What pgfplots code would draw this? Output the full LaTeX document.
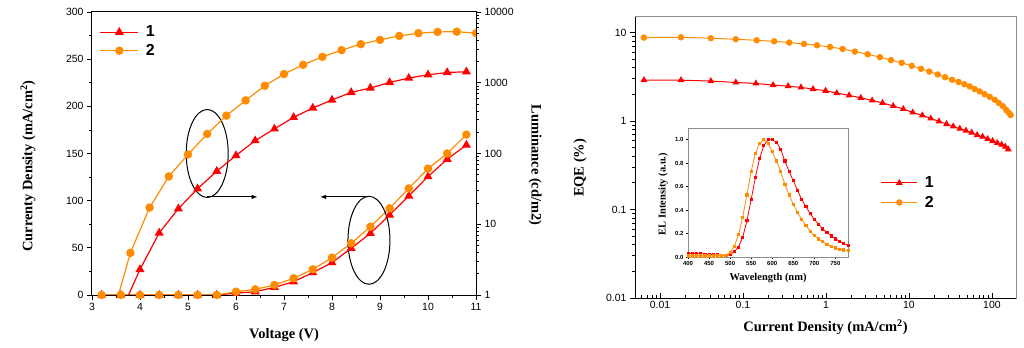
\documentclass[border=0pt]{standalone}
\usepackage{fontspec}
\setmainfont{Liberation Sans}
\newfontfamily\tms{Liberation Serif}
\usepackage{pgfplots}
\pgfplotsset{compat=1.18}
\usetikzlibrary{arrows.meta}
\definecolor{cRed}{RGB}{255,0,0}
\definecolor{cOra}{RGB}{255,140,0}
\definecolor{frameGray}{RGB}{140,140,140}
\begin{document}
\begin{tikzpicture}
\path[use as bounding box] (0,0) rectangle (1024bp,348bp);

% ---------------- Left chart: current density axis ----------------
\begin{axis}[
  at={(92bp,53bp)}, anchor=south west, scale only axis,
  width=384bp, height=283bp,
  xmin=3, xmax=11, ymin=0, ymax=300,
  xtick={3,4,...,11}, ytick={0,50,...,300},
  minor x tick num=1, minor y tick num=1,
  tick align=outside, xtick pos=left, ytick pos=left,
  major tick length=5bp, minor tick length=3bp,
  tick style={black, line width=0.8bp},
  axis line style={line width=1bp},
  tick label style={font=\fontsize{10.5}{12}\selectfont},
  /pgf/number format/assume math mode=true,
  label style={font=\tms\bfseries\fontsize{14.5}{17}\selectfont},
  xlabel={Voltage (V)},
  ylabel={Currenty Density (mA/cm\textsuperscript{2})},
  xlabel style={at={(axis description cs:0.5,-0.141)}, anchor=center},
  ylabel style={at={(axis description cs:-0.167,0.456)}, anchor=center},
  legend style={draw=none, fill=none, at={(0.017,0.962)}, anchor=north west,
    font=\bfseries\fontsize{16}{18}\selectfont, row sep=2bp, inner sep=1bp},
  legend cell align=left,
  legend image code/.code={\draw[mark repeat=2,mark phase=2] plot coordinates {(0bp,0bp)(19bp,0bp)(38bp,0bp)};},
]
\addplot[cRed, line width=1.2bp, mark=triangle*, mark size=4bp] coordinates {
(3.2,0)(3.6,0)(4.0,0)(4.4,0)(4.8,0)(5.2,0)(5.6,0)(6.0,2)(6.4,3.5)(6.8,8.1)
(7.2,14.1)(7.6,23.7)(8.0,34.3)(8.4,49.5)(8.8,65.4)(9.2,84.8)(9.6,105)
(10.0,125.5)(10.4,144)(10.8,159)};
\addlegendentry{\hspace*{5bp}1}
\addplot[cOra, line width=1.2bp, mark=*, mark size=3.6bp] coordinates {
(3.2,0)(3.6,0)(4.0,0)(4.4,0)(4.8,0)(5.2,0)(5.6,0)(6.0,3.5)(6.4,6.0)(6.8,10.6)
(7.2,17.7)(7.6,27.2)(8.0,39.6)(8.4,54.8)(8.8,72.4)(9.2,91.9)(9.6,113)
(10.0,134)(10.4,150)(10.8,170)};
\addlegendentry{\hspace*{5bp}2}
% annotations
\draw[black, line width=1bp] (axis cs:5.4,150) ellipse [x radius=21bp, y radius=44bp];
\draw[black, line width=1bp, -{Latex[length=6bp,width=4.5bp]}] (axis cs:5.4,104) -- (axis cs:6.45,104);
\draw[black, line width=1bp] (axis cs:8.77,58) ellipse [x radius=21bp, y radius=44bp];
\draw[black, line width=1bp, -{Latex[length=6bp,width=4.5bp]}] (axis cs:8.77,104) -- (axis cs:7.75,104);
\end{axis}

% ---------------- Left chart: luminance axis ----------------
\begin{axis}[
  at={(92bp,53bp)}, anchor=south west, scale only axis,
  width=384bp, height=283bp,
  xmin=3, xmax=11, ymode=log, ymin=1, ymax=10000,
  axis x line=none, axis y line*=right,
  ytick={1,10,100,1000,10000}, yticklabels={1,10,100,1000,10000},
  minor ytick={2,3,4,5,6,7,8,9,20,30,40,50,60,70,80,90,200,300,400,500,600,700,800,900,2000,3000,4000,5000,6000,7000,8000,9000},
  tick align=outside,
  major tick length=5bp, minor tick length=3bp,
  tick style={black, line width=0.8bp},
  axis line style={line width=1bp},
  tick label style={font=\fontsize{10.5}{12}\selectfont},
  label style={font=\tms\bfseries\fontsize{14.5}{17}\selectfont},
  ylabel={Luminance (cd/m2)},
  ylabel style={at={(axis description cs:1.154,0.459)}, anchor=center, rotate=180},
  clip marker paths=true,
]
\addplot[cRed, line width=1.2bp, mark=triangle*, mark size=4bp] coordinates {
(3.6,0.57)(4.0,2.30)(4.4,7.54)(4.8,16.6)(5.2,31.8)(5.6,56.3)(6.0,93.7)(6.4,152)
(6.8,223)(7.2,324)(7.6,440)(8.0,571)(8.4,730)(8.8,842)(9.2,1010)(9.6,1164)
(10.0,1297)(10.4,1397)(10.8,1429)};
\addplot[cOra, line width=1.2bp, mark=*, mark size=3.6bp] coordinates {
(3.4,0.44)(3.8,3.94)(4.2,17.2)(4.6,47.4)(5.0,96.8)(5.4,189)(5.8,343)(6.2,563)
(6.6,907)(7.0,1327)(7.4,1795)(7.8,2325)(8.2,2890)(8.6,3510)(9.0,4035)(9.4,4595)
(9.8,5015)(10.2,5225)(10.6,5275)(11.0,5015)};
\end{axis}

% ---------------- Right chart: EQE ----------------
\begin{axis}[
  at={(635bp,50bp)}, anchor=south west, scale only axis,
  width=381bp, height=281bp,
  xmode=log, ymode=log, xmin=0.005, xmax=195, ymin=0.01, ymax=15,
  xtick={0.01,0.1,1,10,100}, xticklabels={0.01,0.1,1,10,100},
  ytick={0.01,0.1,1,10}, yticklabels={0.01,0.1,1,10},
  minor xtick={0.006,0.007,0.008,0.009,0.02,0.03,0.04,0.05,0.06,0.07,0.08,0.09,0.2,0.3,0.4,0.5,0.6,0.7,0.8,0.9,2,3,4,5,6,7,8,9,20,30,40,50,60,70,80,90},
  minor ytick={0.02,0.03,0.04,0.05,0.06,0.07,0.08,0.09,0.2,0.3,0.4,0.5,0.6,0.7,0.8,0.9,2,3,4,5,6,7,8,9},
  xtick pos=left, ytick pos=left,
  xtick align=inside, ytick align=outside,
  major tick length=5bp, minor tick length=3bp,
  tick style={black, line width=0.8bp},
  axis line style={draw=frameGray, line width=1bp},
  after end axis/.code={\draw[black, line width=1bp] (rel axis cs:0,1) -- (rel axis cs:0,0) -- (rel axis cs:1,0);},
  tick label style={font=\fontsize{10.5}{12}\selectfont},
  label style={font=\tms\bfseries\fontsize{14.5}{17}\selectfont},
  xlabel={Current Density (mA/cm\textsuperscript{2})},
  ylabel={EQE (\%)},
  xlabel style={at={(axis description cs:0.5,-0.105)}, anchor=center},
  ylabel style={at={(axis description cs:-0.144,0.463)}, anchor=center},
  legend style={draw=none, fill=none, at={(0.642,0.443)}, anchor=north west,
    font=\bfseries\fontsize{16}{18}\selectfont, row sep=3bp, inner sep=1bp},
  legend cell align=left,
  legend image code/.code={\draw[mark repeat=2,mark phase=2] plot coordinates {(0bp,0bp)(18bp,0bp)(36bp,0bp)};},
]
\addplot[cRed, line width=1bp, mark=triangle*, mark size=3bp] coordinates {
(0.0064,2.90)(0.0179,2.90)(0.041,2.83)(0.082,2.73)(0.143,2.66)(0.231,2.55)
(0.35,2.48)(0.50,2.40)(0.70,2.30)(0.99,2.20)(1.35,2.07)(1.90,1.95)(2.63,1.83)
(3.6,1.71)(4.8,1.60)(6.47,1.48)(8.54,1.37)(11.1,1.25)(14.5,1.16)(18.3,1.07)
(23.0,0.99)(28.4,0.925)(34.2,0.87)(41.0,0.82)(48.6,0.78)(57.0,0.74)(66.3,0.695)
(77.2,0.665)(88.9,0.627)(101.9,0.595)(116,0.565)(131,0.541)(145,0.513)(157,0.48)};
\addlegendentry{\hspace*{5bp}1}
\addplot[cOra, line width=1bp, mark=*, mark size=2.7bp] coordinates {
(0.0064,8.78)(0.0179,8.85)(0.041,8.63)(0.082,8.4)(0.146,8.18)(0.238,7.97)
(0.361,7.71)(0.543,7.44)(0.78,7.19)(1.12,6.88)(1.59,6.53)(2.23,6.1)(3.18,5.69)
(4.47,5.27)(6.07,4.88)(8.17,4.55)(10.8,4.21)(13.96,3.89)(17.6,3.63)(22.2,3.36)
(27.2,3.13)(33.1,2.93)(39.6,2.77)(46.6,2.61)(54.1,2.46)(62.0,2.30)(71.3,2.16)
(81.8,2.01)(94.2,1.88)(108,1.74)(121,1.60)(136,1.47)(149,1.33)(161,1.23)(168,1.17)};
\addlegendentry{\hspace*{5bp}2}
\end{axis}

% ---------------- Inset: EL spectra ----------------
\begin{axis}[
  at={(688bp,91bp)}, anchor=south west, scale only axis,
  width=160bp, height=129bp,
  xmin=400, xmax=780, ymin=0, ymax=1.1,
  xtick={400,450,...,750}, ytick={0,0.2,0.4,0.6,0.8,1.0},
  y tick label style={/pgf/number format/fixed, /pgf/number format/fixed zerofill, /pgf/number format/precision=1, xshift=1bp},
  x tick label style={yshift=1bp},
  xtick pos=left, ytick pos=left, tick align=outside,
  major tick length=2bp,
  tick style={black, line width=0.5bp},
  axis line style={draw=frameGray, line width=0.8bp},
  axis background/.style={fill=white},
  /pgf/number format/assume math mode=true,
  tick label style={font=\bfseries\fontsize{6}{7}\selectfont},
  label style={font=\tms\bfseries\fontsize{10.5}{12}\selectfont},
  xlabel={Wavelength (nm)}, ylabel={EL Intensity (a.u.)},
  xlabel style={at={(axis description cs:0.5,-0.163)}, anchor=center},
  ylabel style={at={(axis description cs:-0.156,0.488)}, anchor=center},
]
\addplot[cRed, line width=0.8bp, mark=square*, mark size=1.1bp] coordinates {
(400,0.03)(410,0.03)(420,0.028)(430,0.027)(440,0.025)(450,0.022)(460,0.02)
(470,0.018)(480,0.016)(490,0.015)(500,0.02)(510,0.045)(520,0.085)(530,0.17)
(540,0.31)(550,0.49)(560,0.68)(570,0.84)(580,0.95)(590,1.0)(600,1.0)(610,0.98)
(620,0.92)(630,0.82)(640,0.73)(650,0.65)(660,0.57)(670,0.49)(680,0.43)(690,0.37)
(700,0.32)(710,0.28)(720,0.24)(730,0.21)(740,0.18)(750,0.155)(760,0.135)
(770,0.115)(780,0.10)};
\addplot[cOra, line width=0.8bp, mark=square*, mark size=1.1bp] coordinates {
(400,0.01)(410,0.01)(420,0.01)(430,0.01)(440,0.01)(450,0.01)(460,0.01)
(470,0.01)(480,0.01)(490,0.015)(500,0.04)(510,0.09)(520,0.19)(530,0.34)
(540,0.53)(550,0.73)(560,0.88)(570,0.97)(580,1.0)(590,0.97)(600,0.90)(610,0.82)
(620,0.73)(630,0.62)(640,0.53)(650,0.45)(660,0.38)(670,0.32)(680,0.27)(690,0.22)
(700,0.185)(710,0.155)(720,0.13)(730,0.11)(740,0.092)(750,0.078)(760,0.067)
(770,0.06)(780,0.055)};
\end{axis}
\end{tikzpicture}
\end{document}
